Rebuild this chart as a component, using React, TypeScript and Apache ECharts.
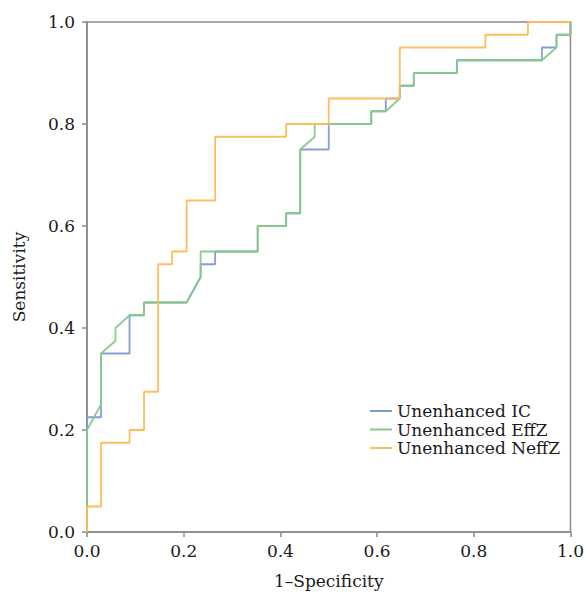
import React, { useEffect, useRef } from "react";
import * as echarts from "echarts";

const seriesNames = ["Unenhanced IC", "Unenhanced EffZ", "Unenhanced NeffZ"];
const xTicks = [0, 0.2, 0.4, 0.6, 0.8, 1.0];

const icPoints: [number, number][] = [
  [0, 0], [0, 0.225], [0.029, 0.225], [0.029, 0.35], [0.088, 0.35], [0.088, 0.425],
  [0.118, 0.425], [0.118, 0.45], [0.206, 0.45], [0.235, 0.5], [0.235, 0.525],
  [0.265, 0.525], [0.265, 0.55], [0.353, 0.55], [0.353, 0.6], [0.412, 0.6],
  [0.412, 0.625], [0.441, 0.625], [0.441, 0.75], [0.5, 0.75], [0.5, 0.8],
  [0.588, 0.8], [0.588, 0.825], [0.618, 0.825], [0.618, 0.85], [0.647, 0.85],
  [0.647, 0.875], [0.676, 0.875], [0.676, 0.9], [0.765, 0.9], [0.765, 0.925],
  [0.941, 0.925], [0.941, 0.95], [0.971, 0.95], [0.971, 0.975], [1, 0.975], [1, 1],
];

const effzPoints: [number, number][] = [
  [0, 0], [0, 0.2], [0.029, 0.25], [0.029, 0.35], [0.059, 0.375], [0.059, 0.4],
  [0.088, 0.425], [0.118, 0.425], [0.118, 0.45], [0.206, 0.45], [0.235, 0.5],
  [0.235, 0.55], [0.353, 0.55], [0.353, 0.6], [0.412, 0.6], [0.412, 0.625],
  [0.441, 0.625], [0.441, 0.75], [0.471, 0.775], [0.471, 0.8], [0.588, 0.8],
  [0.588, 0.825], [0.618, 0.825], [0.647, 0.85], [0.647, 0.875], [0.676, 0.875],
  [0.676, 0.9], [0.765, 0.9], [0.765, 0.925], [0.941, 0.925], [0.971, 0.95],
  [0.971, 0.975], [1, 0.975], [1, 1],
];

const neffzPoints: [number, number][] = [
  [0, 0], [0, 0.05], [0.029, 0.05], [0.029, 0.175], [0.088, 0.175], [0.088, 0.2],
  [0.118, 0.2], [0.118, 0.275], [0.147, 0.275], [0.147, 0.525], [0.176, 0.525],
  [0.176, 0.55], [0.206, 0.55], [0.206, 0.65], [0.265, 0.65], [0.265, 0.775],
  [0.412, 0.775], [0.412, 0.8], [0.5, 0.8], [0.5, 0.85], [0.647, 0.85],
  [0.647, 0.95], [0.824, 0.95], [0.824, 0.975], [0.912, 0.975], [0.912, 1], [1, 1],
];

const colors = ["#7b9ad6", "#86c986", "#ffbb55"];
const FONT = "'DejaVu Serif', 'Liberation Serif', serif";

export default function App() {
  const ref = useRef<HTMLDivElement>(null);
  useEffect(() => {
    if (!ref.current) return;
    const chart = echarts.init(ref.current, null, { renderer: "svg" });
    const axisCommon = {
      type: "value" as const,
      min: 0,
      max: 1,
      interval: 0.2,
      splitLine: { show: false },
      axisLine: { show: true, lineStyle: { color: "#8a8a8a", width: 1.5 } },
      axisTick: { show: true, length: 5, lineStyle: { color: "#8a8a8a", width: 1.5 } },
      axisLabel: {
        color: "#1a1a1a",
        fontFamily: FONT,
        fontSize: 17,
        formatter: (v: number) => v.toFixed(1),
      },
      nameLocation: "middle" as const,
      nameTextStyle: { color: "#1a1a1a", fontFamily: FONT, fontSize: 17 },
    };
    const mk = (name: string, data: [number, number][], color: string) => ({
      name,
      type: "line" as const,
      data,
      symbol: "none",
      showSymbol: false,
      lineStyle: { color, width: 1.8, opacity: 0.95 },
      itemStyle: { color },
    });
    chart.setOption({
      animation: false,
      backgroundColor: "#fff",
      grid: {
        left: 87,
        right: 16,
        top: 22,
        bottom: 62,
        show: true,
        borderColor: "#8a8a8a",
        borderWidth: 1.5,
        backgroundColor: "transparent",
      },
      xAxis: {
        ...axisCommon,
        name: "1–Specificity",
        nameGap: 40,
        axisLabel: { ...axisCommon.axisLabel, margin: 10 },
        customValues: xTicks,
      },
      yAxis: {
        ...axisCommon,
        name: "Sensitivity",
        nameGap: 60,
        axisLabel: { ...axisCommon.axisLabel, margin: 12 },
      },
      legend: {
        data: seriesNames,
        orient: "vertical",
        left: 365,
        top: 397,
        itemWidth: 22,
        itemHeight: 2,
        itemGap: 0.5,
        icon: "rect",
        textStyle: {
          color: "#1a1a1a",
          fontFamily: FONT,
          fontSize: 17,
          lineHeight: 3,
          padding: [15, 0, 0, 0],
        },
      },
      series: [
        mk(seriesNames[0], icPoints, colors[0]),
        mk(seriesNames[1], effzPoints, colors[1]),
        mk(seriesNames[2], neffzPoints, colors[2]),
      ],
    });
    return () => chart.dispose();
  }, []);
  return (
    <div
      ref={ref}
      style={{ position: "fixed", left: 0, top: 0, width: 587, height: 594, background: "#fff" }}
    />
  );
}
